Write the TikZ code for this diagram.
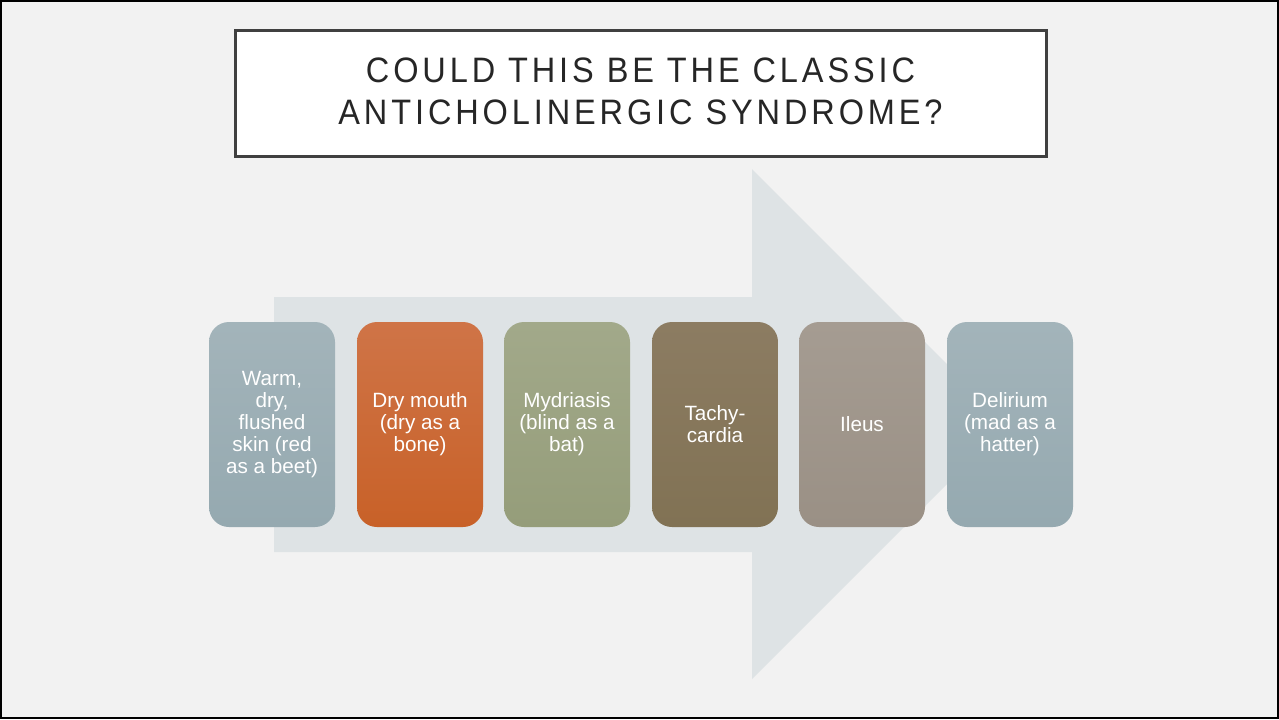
\documentclass[tikz,border=0pt]{standalone}
\usepackage{fontspec}
\setmainfont{Liberation Sans}
\newfontfamily\titlefont[FakeStretch=0.92,LetterSpace=11]{Liberation Sans}
\definecolor{bgc}{HTML}{F2F2F2}
\definecolor{arrowc}{HTML}{DEE3E5}
\definecolor{framec}{HTML}{404040}
\definecolor{titlec}{HTML}{262626}
\definecolor{blueT}{HTML}{A3B4BA}
\definecolor{blueB}{HTML}{95A9B0}
\definecolor{orT}{HTML}{CF7447}
\definecolor{orB}{HTML}{C86128}
\definecolor{grT}{HTML}{A2A98A}
\definecolor{grB}{HTML}{959D7A}
\definecolor{brT}{HTML}{8C7C62}
\definecolor{brB}{HTML}{817254}
\definecolor{taT}{HTML}{A59C92}
\definecolor{taB}{HTML}{9A9085}
\tikzset{
  card/.style={rounded corners=15pt, minimum width=94.5pt, minimum height=153.75pt,
    inner sep=0pt, align=center, text=white, font=\fontsize{15.5}{16.5}\selectfont},
}
\begin{document}
\begin{tikzpicture}[x=0.75pt,y=-0.75pt]
\useasboundingbox (0,0) rectangle (1279,719);
\fill[bgc] (0,0) rectangle (1279,719);
\draw[black,line width=1.5pt] (1,1) rectangle (1278,718);
\fill[arrowc] (274,297) -- (752,297) -- (752,169) -- (1007,424) -- (752,679) -- (752,552) -- (274,552) -- cycle;
\node[draw=framec, fill=white, line width=2.25pt, minimum width=608.25pt, minimum height=94.5pt,
  inner sep=0pt] (title) at (640.5,93) {};
\node[align=center, inner sep=0pt, font=\titlefont\fontsize{26.5}{31.5}\selectfont, text=titlec]
  (titletext) at (640.5,91) {COULD THIS BE THE CLASSIC\\ANTICHOLINERGIC SYNDROME?};
\node[card, top color=blueT, bottom color=blueB] (c1) at (272,424.5) {Warm,\\dry,\\flushed\\skin (red\\as a beet)};
\node[card, top color=orT, bottom color=orB] (c2) at (420,424.5) {Dry mouth\\(dry as a\\bone)};
\node[card, top color=grT, bottom color=grB] (c3) at (567,424.5) {Mydriasis\\(blind as a\\bat)};
\node[card, top color=brT, bottom color=brB] (c4) at (715,424.5) {Tachy-\\cardia};
\node[card, top color=taT, bottom color=taB] (c5) at (862,424.5) {Ileus};
\node[card, top color=blueT, bottom color=blueB] (c6) at (1010,424.5) {Delirium\\(mad as a\\hatter)};
\end{tikzpicture}
\end{document}
